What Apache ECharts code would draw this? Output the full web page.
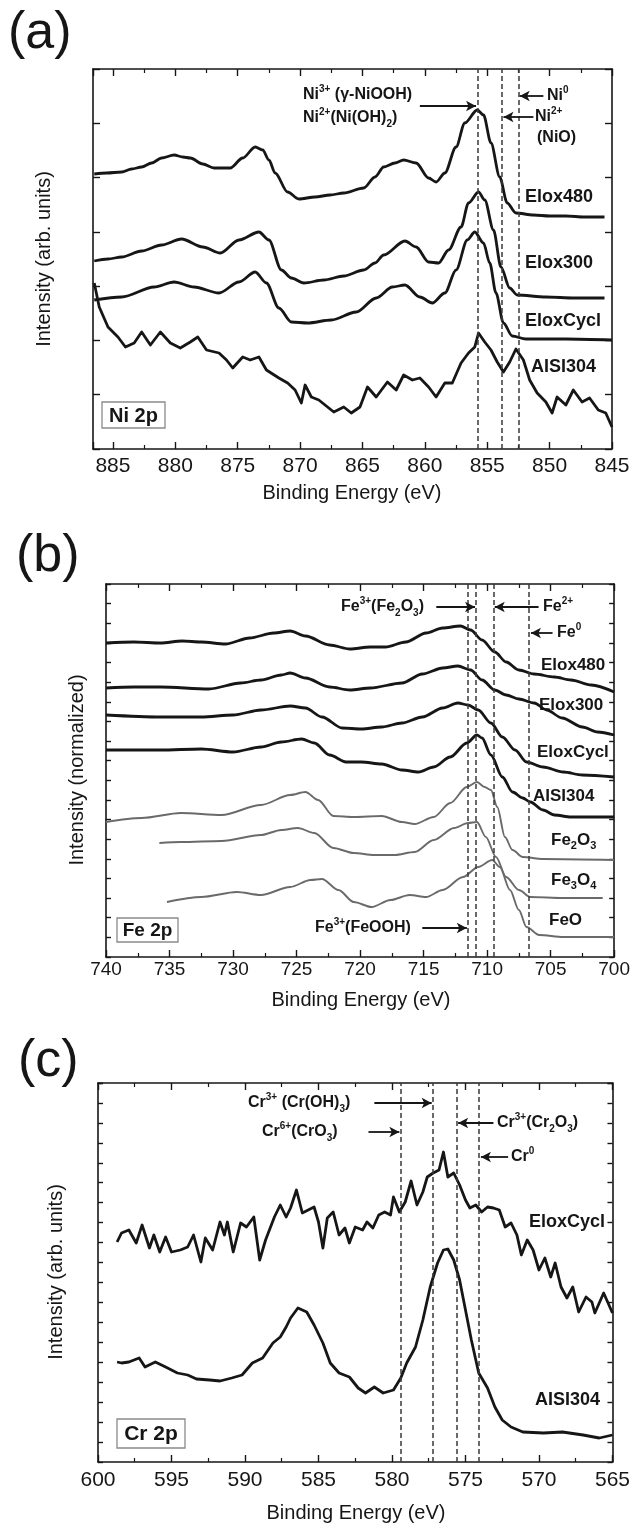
<!DOCTYPE html>
<html>
<head>
<meta charset="utf-8">
<script src="https://cdn.jsdelivr.net/npm/echarts@6/dist/echarts.min.js"></script>
<style>html,body{margin:0;padding:0;background:#fff}#c{width:633px;height:1525px}</style>
</head>
<body>
<div id="c"></div>
<script>
// ---------- DATA (Binding energy eV, intensity arb. units) ----------
const niXTicks = [845, 850, 855, 860, 865, 870, 875, 880, 885];
const niRefLines = [855.8, 853.8, 852.5];
const niElox480 = [[886.5,275],[885.5,276],[884.3,277],[883.5,280],[882.7,282],[881.9,286],[881.1,291],[880.1,294],[879.4,292],[878.8,291],[877.8,285],[876.9,281],[875.6,281],[874.6,291],[873.6,302],[873.0,299],[872.5,289],[872.0,276],[871.0,257],[870.1,250],[868.8,252],[867.6,254],[866.5,256],[864.9,261],[864.0,272],[863.3,282],[862.4,286],[861.7,289],[860.7,286],[859.7,271],[859.1,267],[858.4,276],[857.5,302],[856.8,326],[855.8,339],[855.3,334],[854.7,306],[854.0,272],[853.4,246],[852.7,236],[851.3,234],[850.0,233],[848.7,233],[847.2,232],[845.6,232]];
const niElox300 = [[886.5,188],[885.4,190],[884.3,192],[882.7,198],[881.1,204],[879.5,210],[877.8,202],[876.4,196],[874.9,209],[873.3,217],[872.5,209],[871.5,179],[870.7,171],[869.7,166],[868.1,169],[866.5,173],[864.9,179],[864.0,186],[863.3,194],[861.6,208],[860.7,202],[859.7,187],[858.9,186],[858.1,199],[857.1,222],[856.5,246],[855.7,257],[855.2,249],[854.5,219],[853.9,182],[853.2,161],[852.6,154],[850.3,152],[848.0,151],[845.6,151]];
const niEloxCycl = [[886.5,149],[884.3,152],[881.7,162],[880.1,167],[878.5,162],[876.5,156],[874.9,167],[873.6,177],[872.7,166],[871.7,141],[870.7,127],[869.4,126],[867.5,129],[865.5,137],[863.9,151],[862.6,162],[861.6,164],[860.4,152],[859.4,146],[858.4,156],[857.5,179],[856.6,209],[856.0,217],[855.3,206],[854.8,186],[854.3,156],[853.7,126],[853.0,113],[851.9,110],[848.7,110],[845.0,109]];
const niAISI304 = [[886.5,166],[886.1,142],[885.4,122],[884.6,112],[884.0,102],[883.3,106],[882.7,117],[882.0,104],[881.2,117],[880.4,106],[879.6,101],[878.8,107],[878.2,112],[877.5,99],[876.5,96],[875.9,89],[875.4,81],[874.6,92],[874.0,89],[873.3,92],[872.7,79],[871.7,71],[871.0,66],[870.4,59],[869.9,46],[869.6,64],[869.1,52],[868.5,49],[867.8,42],[867.3,37],[866.5,42],[865.9,36],[865.2,42],[864.6,62],[863.9,52],[863.0,67],[862.3,59],[861.7,74],[861.0,69],[860.4,71],[859.7,62],[859.1,52],[858.4,66],[857.8,66],[857.1,86],[856.5,96],[856.0,102],[855.7,116],[855.2,107],[854.7,99],[854.2,87],[853.7,77],[853.2,87],[852.7,100],[852.1,89],[851.6,69],[851.0,56],[850.3,47],[849.8,36],[849.4,52],[848.7,44],[848.1,59],[847.4,47],[846.8,51],[846.1,39],[845.5,36],[845.0,22]];

const feXTicks = [700, 705, 710, 715, 720, 725, 730, 735, 740];
const feRefLines = [711.5, 710.9, 709.5, 706.7];
const feElox480 = [[740,314],[737.8,315],[735.7,314],[734.0,316],[732.5,315],[730.6,313],[728.7,319],[726.8,324],[725.5,326],[724.3,321],[722.4,312],[720.8,308],[719.2,310],[718.0,310],[716.4,315],[714.8,324],[713.5,329],[712.1,331],[711.3,327],[710.4,317],[709.4,305],[708.5,295],[707.5,287],[706.3,283],[704.7,280],[703.4,277],[701.8,272],[700,265]];
const feElox300 = [[740,269],[737.8,270],[735.7,270],[731.9,268],[729.4,274],[727.8,277],[726.2,282],[725.5,284],[724.3,279],[722.4,270],[720.8,267],[719.2,269],[716.7,274],[715.1,283],[713.5,289],[712.3,291],[711.3,287],[710.4,277],[709.4,267],[708.5,262],[707.5,258],[706.3,254],[705.3,247],[704.1,239],[702.5,230],[701.3,225],[700,222]];
const feEloxCycl = [[740,242],[735.7,240],[732.5,240],[730.0,242],[727.8,247],[725.5,251],[724.3,249],[723.0,240],[721.4,229],[719.9,228],[718.3,230],[716.7,234],[715.1,240],[713.5,249],[712.3,254],[711.5,252],[710.7,247],[709.7,234],[708.8,220],[707.8,207],[706.9,195],[705.6,190],[704.0,185],[702.5,182],[700,180]];
const feAISI304 = [[740,207],[735.7,207],[732.5,208],[730.0,205],[727.8,210],[726.2,215],[724.6,218],[723.6,214],[722.4,202],[721.1,195],[719.9,195],[718.3,193],[716.7,187],[715.4,185],[714.2,190],[712.9,200],[711.6,214],[710.8,222],[710.4,219],[709.7,202],[708.8,180],[708.0,165],[707.2,159],[706.6,155],[705.6,147],[704.7,142],[703.4,140],[700,140]];
const feFe2O3 = [[740,135],[737.2,139],[734.1,144],[730.9,142],[727.8,152],[725.5,162],[724.3,165],[723.3,157],[722.1,141],[720.5,140],[718.3,141],[716.7,135],[715.7,133],[714.2,140],[712.9,154],[711.6,170],[710.8,175],[710.2,170],[709.7,167],[709.2,150],[708.6,120],[708.0,107],[707.2,100],[705.6,98],[700,97]];
const feFe3O4 = [[735.8,114],[734.1,115],[730.9,116],[727.8,122],[726.2,127],[724.9,129],[723.6,124],[722.1,109],[720.5,104],[718.9,102],[717.3,102],[715.7,105],[714.2,117],[712.6,129],[711.5,134],[710.8,135],[710.1,120],[709.3,100],[708.5,80],[707.5,67],[706.6,60],[704.0,59],[700.9,59]];
const feFeO = [[735.2,55],[732.5,60],[729.7,65],[727.8,62],[725.5,70],[723.9,77],[723.0,78],[721.7,67],[720.5,55],[719.1,50],[717.6,57],[716.1,62],[714.8,60],[713.5,67],[711.9,80],[710.7,90],[709.6,97],[709.0,90],[708.2,67],[707.5,47],[706.9,30],[705.9,22],[704.0,20],[700,20]];

const crXTicks = [565, 570, 575, 580, 585, 590, 595, 600];
const crRefLines = [579.4, 577.2, 575.6, 574.1];
const crEloxCycl = [[598.7,220],[598.4,229],[597.9,232],[597.4,219],[597.0,237],[596.5,214],[596.2,227],[595.8,210],[595.4,225],[595.0,210],[594.4,212],[593.9,215],[593.5,227],[593.0,200],[592.7,224],[592.2,212],[591.7,240],[591.4,227],[591.2,240],[590.8,210],[590.3,239],[589.9,235],[589.4,245],[589.0,202],[588.6,222],[588.0,245],[587.6,257],[587.2,245],[586.9,254],[586.5,272],[586.1,249],[585.7,252],[585.3,255],[585.0,240],[584.7,214],[584.4,244],[584.0,250],[583.6,227],[583.2,234],[582.9,219],[582.5,235],[582.0,232],[581.7,240],[581.3,234],[580.9,247],[580.5,250],[580.1,247],[579.9,265],[579.5,250],[579.1,260],[578.7,281],[578.3,257],[577.9,270],[577.6,285],[577.2,289],[576.8,292],[576.5,310],[576.2,285],[575.8,289],[575.4,277],[575.0,262],[574.7,254],[574.3,257],[573.9,250],[573.5,255],[573.1,254],[572.7,252],[572.3,235],[571.9,239],[571.5,227],[571.2,207],[570.8,222],[570.4,212],[570.0,192],[569.6,204],[569.2,185],[568.9,199],[568.5,175],[568.1,164],[567.7,175],[567.3,150],[566.8,165],[566.4,160],[566.2,149],[565.6,169],[565.0,149]];
const crAISI304 = [[598.7,100],[598.4,99],[597.9,100],[597.2,104],[596.8,95],[596.1,100],[595.4,95],[594.6,89],[593.9,87],[593.3,83],[592.4,82],[591.7,81],[590.9,84],[590.2,87],[589.5,99],[588.8,104],[588.1,119],[587.6,125],[587.2,135],[586.9,144],[586.4,154],[585.8,150],[585.3,137],[584.7,119],[584.2,99],[583.6,89],[582.9,85],[582.3,74],[581.8,69],[581.2,75],[580.6,69],[579.9,72],[579.4,84],[579.0,99],[578.4,115],[577.9,142],[577.4,175],[576.9,199],[576.5,212],[576.2,213],[575.8,202],[575.4,182],[575.0,152],[574.6,122],[574.1,89],[573.5,74],[573.0,55],[572.5,42],[571.9,35],[571.1,30],[569.7,29],[568.4,30],[567.0,27],[565.9,24],[565.0,27]];

// arrows: [fromX, fromY, toX, toY] in data units
const niArrows = [[860.4,343,855.9,343],[850.5,353,852.4,353],[851.3,332,853.7,332]];
const feArrows = [[714.0,350,710.95,350],[705.95,350,709.4,350],[704.85,324,706.55,324],[715.1,29,711.6,29]];
const crArrows = [[581.2,359,577.3,359],[581.6,330,579.5,330],[573.1,339,575.5,339],[572.1,305,573.95,305]];

// ---------- LAYOUT ----------
const F = 'Liberation Sans, Arial, sans-serif';
const INK = '#161616';
const GRAY = '#6a6a6a';
const panels = [
  {left:93, top:69, width:519, height:380, xmin:845, xmax:886.6, ymax:380, ny:7, fs:21, margin:7},
  {left:106, top:584, width:511, height:373, xmin:700, xmax:740, ymax:373, ny:19, fs:19, margin:3},
  {left:98, top:1083, width:516, height:379, xmin:565, xmax:600, ymax:379, ny:19, fs:21, margin:8}
];

const grids = [], xAxes = [], yAxes = [];
panels.forEach((p, i) => {
  grids.push({left:p.left, top:p.top, width:p.width, height:p.height, containLabel:false});
  ['bottom','top'].forEach(pos => xAxes.push({
    type:'value', gridIndex:i, min:p.xmin, max:p.xmax, interval:5, inverse:true, position:pos,
    axisLine:{show:true, onZero:false, lineStyle:{color:INK, width:1.6}},
    axisTick:{show:true, inside:true, length:7, lineStyle:{color:INK, width:1.4}},
    minorTick:{show:true, splitNumber:2, length:4, lineStyle:{color:INK, width:1.2}},
    splitLine:{show:false}, minorSplitLine:{show:false},
    axisLabel:{show:pos==='bottom', fontSize:p.fs, color:INK, margin:p.margin, fontFamily:F,
      showMaxLabel:true, showMinLabel:true,
      formatter:v => (Math.abs(v/5 - Math.round(v/5)) < 1e-6 ? String(Math.round(v)) : '')}
  }));
  ['left','right'].forEach(pos => yAxes.push({
    type:'value', gridIndex:i, min:0, max:p.ymax, interval:p.ymax/p.ny, position:pos,
    axisLine:{show:true, onZero:false, lineStyle:{color:INK, width:1.6}},
    axisTick:{show:true, inside:true, length:i===0?7:5, lineStyle:{color:INK, width:1.4}},
    axisLabel:{show:false}, splitLine:{show:false}
  }));
});

function curve(data, gi, color, width, smooth) {
  return {type:'line', xAxisIndex:gi*2, yAxisIndex:gi*2, data:data, showSymbol:false, symbol:'none',
    smooth: smooth || false, smoothMonotone: smooth ? 'x' : undefined,
    lineStyle:{color:color, width:width, join:'round'}, z:3, silent:true, animation:false};
}
function refLines(vals, gi) {
  return {type:'line', xAxisIndex:gi*2, yAxisIndex:gi*2, data:[], silent:true, animation:false,
    markLine:{silent:true, symbol:'none', animation:false, label:{show:false},
      lineStyle:{color:'#3a3a3a', width:1.5, type:[5,3]},
      data: vals.map(v => ({xAxis:v}))}};
}
function arrows(list, gi) {
  return {type:'line', xAxisIndex:gi*2, yAxisIndex:gi*2, data:[], silent:true, animation:false,
    markLine:{silent:true, symbol:['none','arrow'], symbolSize:[8,10], animation:false, label:{show:false},
      lineStyle:{color:INK, width:1.8, type:'solid'},
      data: list.map(a => [{coord:[a[0],a[1]]},{coord:[a[2],a[3]]}])}};
}

const W = 2.8, S = 0.3;
const series = [
  refLines(niRefLines,0), arrows(niArrows,0),
  curve(niElox480,0,INK,W,S), curve(niElox300,0,INK,W,S), curve(niEloxCycl,0,INK,W,S), curve(niAISI304,0,INK,W),
  refLines(feRefLines,1), arrows(feArrows,1),
  curve(feElox480,1,INK,W,S), curve(feElox300,1,INK,W,S), curve(feEloxCycl,1,INK,W,S), curve(feAISI304,1,INK,W,S),
  curve(feFe2O3,1,GRAY,1.9,S), curve(feFe3O4,1,GRAY,1.9,S), curve(feFeO,1,GRAY,1.9,S),
  refLines(crRefLines,2), arrows(crArrows,2),
  curve(crEloxCycl,2,INK,W), curve(crAISI304,2,INK,W)
];

// ---------- TEXT ----------
function richStyles(fs) {
  const sub = Math.round(fs*0.62);
  const base = {fontFamily:F, fontWeight:'bold', fill:INK, color:INK};
  return {
    n: Object.assign({}, base, {fontSize:fs, lineHeight:fs+6}),
    s: Object.assign({}, base, {fontSize:sub, lineHeight:sub, verticalAlign:'top', textVerticalAlign:'top'}),
    b: Object.assign({}, base, {fontSize:sub, lineHeight:sub, verticalAlign:'bottom', textVerticalAlign:'bottom'})
  };
}
function rt(x, y, str, fs, align) {
  return {type:'text', x:x, y:y, z:100, silent:true,
    style:{text:str, rich:richStyles(fs), align:align||'left', verticalAlign:'middle',
      textAlign:align||'left', textVerticalAlign:'middle', fill:INK}};
}
function plain(x, y, str, fs, opts) {
  opts = opts || {};
  return {type:'text', x:x, y:y, rotation:opts.rot||0, z:100, silent:true,
    style:{text:str, font:(opts.weight||'normal')+' '+fs+'px '+F, fill:INK,
      align:opts.align||'center', verticalAlign:'middle', textAlign:opts.align||'center', textVerticalAlign:'middle'}};
}
function box(x, y, w, h, str, fs) {
  return [
    {type:'rect', z:99, silent:true, shape:{x:x, y:y, width:w, height:h}, style:{fill:'#fff', stroke:'#8a8a8a', lineWidth:1.3}},
    plain(x+w/2, y+h/2+1, str, fs, {weight:'bold'})
  ];
}

const graphics = [
  // panel (a)
  plain(8, 34, '(a)', 52, {align:'left'}),
  plain(44, 259, 'Intensity (arb. units)', 20, {rot:Math.PI/2}),
  plain(352, 493, 'Binding Energy (eV)', 20),
  rt(303, 95, '{n|Ni}{s|3+}{n| (γ-NiOOH)}', 16),
  rt(303, 118, '{n|Ni}{s|2+}{n|(Ni(OH)}{b|2}{n|)}', 16),
  rt(547, 96, '{n|Ni}{s|0}', 16),
  rt(535, 117, '{n|Ni}{s|2+}', 16),
  rt(537, 138, '{n|(NiO)}', 16),
  rt(525, 197, '{n|Elox480}', 18),
  rt(525, 263, '{n|Elox300}', 18),
  rt(525, 321, '{n|EloxCycl}', 18),
  rt(531, 367, '{n|AISI304}', 18),
  ...box(102, 402, 63, 26, 'Ni 2p', 20),
  // panel (b)
  plain(16, 557, '(b)', 52, {align:'left'}),
  plain(77, 770, 'Intensity (normalized)', 20, {rot:Math.PI/2}),
  plain(361, 1000, 'Binding Energy (eV)', 20),
  rt(341, 607, '{n|Fe}{s|3+}{n|(Fe}{b|2}{n|O}{b|3}{n|)}', 16),
  rt(543, 607, '{n|Fe}{s|2+}', 16),
  rt(557, 633, '{n|Fe}{s|0}', 16),
  rt(541, 665, '{n|Elox480}', 17),
  rt(539, 705, '{n|Elox300}', 17),
  rt(537, 752, '{n|EloxCycl}', 17),
  rt(533, 796, '{n|AISI304}', 17),
  rt(551, 840, '{n|Fe}{b|2}{n|O}{b|3}', 17),
  rt(551, 880, '{n|Fe}{b|3}{n|O}{b|4}', 17),
  rt(549, 920, '{n|FeO}', 17),
  rt(315, 928, '{n|Fe}{s|3+}{n|(FeOOH)}', 16),
  ...box(117, 918, 61, 24, 'Fe 2p', 19),
  // panel (c)
  plain(18, 1062, '(c)', 52, {align:'left'}),
  plain(56, 1272, 'Intensity (arb. units)', 20, {rot:Math.PI/2}),
  plain(356, 1513, 'Binding Energy (eV)', 20),
  rt(248, 1103, '{n|Cr}{s|3+}{n| (Cr(OH)}{b|3}{n|)}', 16),
  rt(262, 1132, '{n|Cr}{s|6+}{n|(CrO}{b|3}{n|)}', 16),
  rt(497, 1123, '{n|Cr}{s|3+}{n|(Cr}{b|2}{n|O}{b|3}{n|)}', 16),
  rt(511, 1157, '{n|Cr}{s|0}', 16),
  rt(529, 1222, '{n|EloxCycl}', 18),
  rt(535, 1400, '{n|AISI304}', 18),
  ...box(117, 1419, 68, 29, 'Cr 2p', 21)
];

const chart = echarts.init(document.getElementById('c'), null, {renderer:'canvas'});
chart.setOption({
  backgroundColor:'#fff', animation:false,
  grid:grids, xAxis:xAxes, yAxis:yAxes, series:series, graphic:graphics
});
</script>
</body>
</html>
